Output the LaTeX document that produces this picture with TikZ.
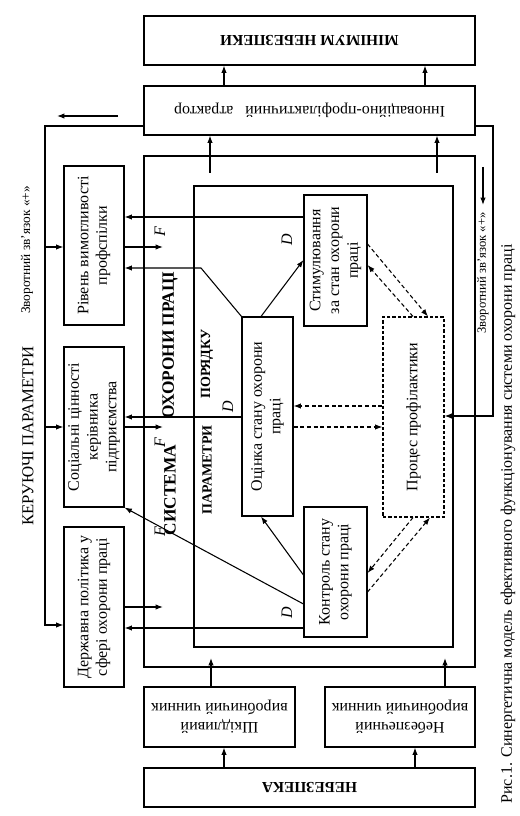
\documentclass[tikz,border=0pt]{standalone}
\usepackage{fontspec}
\setmainfont{Liberation Serif}
\usetikzlibrary{arrows.meta,fit}
\begin{document}
\begin{tikzpicture}[
			x=0.75pt, y=-0.75pt,
			blok/.style={draw, line width=0.8pt, inner sep=0pt},
			punktyr/.style={blok, dash pattern=on 2.5pt off 1.5pt},
			strilka/.style={line width=0.8pt, -{Latex[length=5.5pt,width=4pt]}},
			pstrilka/.style={strilka, dash pattern=on 3pt off 2pt},
			napys/.style={inner sep=0pt, rotate=90, align=center, font=\fontsize{12}{14}\selectfont},
			unapys/.style={inner sep=0pt, rotate=180, align=center, font=\fontsize{12}{14}\selectfont},
			litera/.style={inner sep=0pt, rotate=90, font=\fontsize{12}{14}\selectfont\itshape}
			]
			\useasboundingbox (0,0) rectangle (520,816);
			
			\node[blok, fit={(144,16) (475,65)}, label={[unapys, font=\bfseries\fontsize{11.5}{14}\selectfont]center:{МІНІМУМ НЕБЕЗПЕКИ}}] (minimum) {};
			\node[blok, fit={(144,86) (475,135)}, label={[unapys]center:{Інноваційно-профілактичний\ \ \ атрактор}}] (atraktor) {};
			\node[blok, fit={(144,156) (475,667)}] (systema) {};
			\node[blok, fit={(194,186) (453,647)}] (poriadok) {};
			
			\node[blok, fit={(64,166) (124,325)}, label={[napys]center:{Рівень вимогливості\\профспілки}}] (rivn) {};
			\node[blok, fit={(64,347) (124,507)}, label={[napys]center:{Соціальні цінності\\керівника\\підприємства}}] (soc) {};
			\node[blok, fit={(64,527) (124,687)}, label={[napys]center:{Державна політика у\\сфері охорони праці}}] (derzh) {};
			
			\node[blok, fit={(304,195) (367,326)}, label={[napys]center:{Стимулювання\\за стан охорони\\праці}}] (stym) {};
			\node[blok, fit={(242,317) (293,516)}, label={[napys]center:{Оцінка стану охорони\\праці}}] (ocin) {};
			\node[blok, fit={(304,507) (367,637)}, label={[napys]center:{Контроль стану\\охорони праці}}] (kontr) {};
			\node[punktyr, fit={(383,317) (444,517)}, label={[napys]center:{Процес профілактики}}] (proc) {};
			
			\node[blok, fit={(144,687) (295,747)}, label={[unapys]center:{Шкідливий\\виробничий чинник}}] (shkid) {};
			\node[blok, fit={(325,687) (475,747)}, label={[unapys]center:{Небезпечний\\виробничий чинник}}] (nebch) {};
			\node[blok, fit={(144,768) (475,807)}, label={[unapys, font=\bfseries\fontsize{11.5}{14}\selectfont]center:{НЕБЕЗПЕКА}}] (nebezpeka) {};
			
			\node[napys, font=\fontsize{12.5}{14}\selectfont] (keruiuchi) at (28,436) {КЕРУЮЧІ ПАРАМЕТРИ};
			\node[napys, font=\fontsize{10}{12}\selectfont] (zvL) at (27,250) {Зворотний зв’язок «+»};
			\node[napys, font=\fontsize{9.5}{12}\selectfont] (zvR) at (483,273) {Зворотний зв’язок «+»};
			\node[napys, font=\bfseries\fontsize{13}{15}\selectfont] (okhorony) at (170,345) {ОХОРОНИ ПРАЦІ};
			\node[napys, font=\bfseries\fontsize{13}{15}\selectfont] (systemaT) at (170,490) {СИСТЕМА};
			\node[napys, font=\bfseries\fontsize{10.5}{12}\selectfont] (poriadku) at (207,364) {ПОРЯДКУ};
			\node[napys, font=\bfseries\fontsize{10.5}{12}\selectfont] (parametry) at (207,470) {ПАРАМЕТРИ};
			\node[napys] (pidpys) at (508,524) {Рис.1. Синергетична модель ефективного функціонування системи охорони праці};
			
			\node[litera] (F1) at (160,232) {F};
			\node[litera] (F2) at (160,443) {F};
			\node[litera] (F3) at (160,532) {F};
			\node[litera] (D1) at (287,240) {D};
			\node[litera] (D2) at (228,407) {D};
			\node[litera] (D3) at (287,613) {D};
			
			\coordinate (vykhid1) at (163,247);
			\coordinate (vykhid2) at (163,427);
			\coordinate (vykhid3) at (163,607);
			\coordinate (vkhid1) at (210,173);
			\coordinate (vkhid2) at (437,173);
			\coordinate (niz1) at (211,658);
			\coordinate (niz2) at (445,658);
			\coordinate (vlivo1) at (118,116);
			\coordinate (vlivo2) at (57,116);
			\coordinate (vnyz1) at (483,167);
			\coordinate (vnyz2) at (483,205);
			\coordinate (zlam) at (201,268);
			
			\draw[strilka] (224,0 |- atraktor.north) -- (224,0 |- minimum.south);
			\draw[strilka] (425,0 |- atraktor.north) -- (425,0 |- minimum.south);
			\draw[strilka] (vkhid1) -- (210,0 |- atraktor.south);
			\draw[strilka] (vkhid2) -- (437,0 |- atraktor.south);
			\draw[strilka] (vlivo1) -- (vlivo2);
			\draw[strilka] (vnyz1) -- (vnyz2);
			
			\draw[strilka] (atraktor.west |- 0,126) -| (45,625) -- (derzh.west |- 0,625);
			\draw[strilka] (45,247) -- (rivn.west |- 0,247);
			\draw[strilka] (45,427) -- (soc.west |- 0,427);
			\draw[strilka] (atraktor.east |- 0,126) -| (493,416) -- (proc.east |- 0,416);
			
			\draw[strilka] (rivn.east |- vykhid1) -- (vykhid1);
			\draw[strilka] (soc.east |- vykhid2) -- (vykhid2);
			\draw[strilka] (derzh.east |- vykhid3) -- (vykhid3);
			
			\draw[strilka] (stym.west |- 0,217) -- (rivn.east |- 0,217);
			\draw[strilka] (ocin.north west) -- (zlam) -- (rivn.east |- zlam);
			\draw[strilka] (ocin.west |- 0,417) -- (soc.east |- 0,417);
			\draw[strilka] (kontr.west |- 0,604) -- (soc.south east);
			\draw[strilka] (kontr.west |- 0,628) -- (derzh.east |- 0,628);
			\draw[strilka] (kontr.west |- 0,575) -- (261,0 |- ocin.south);
			\draw[strilka] (261,0 |- ocin.north) -- (stym.west |- 0,260);
			
			\draw[pstrilka] (proc.west |- 0,406) -- (ocin.east |- 0,406);
			\draw[pstrilka] (ocin.east |- 0,427) -- (proc.west |- 0,427);
			\draw[pstrilka] (stym.east |- 0,244) -- (428,0 |- proc.north);
			\draw[pstrilka] (413,0 |- proc.north) -- (stym.east |- 0,265);
			\draw[pstrilka] (413,0 |- proc.south) -- (kontr.east |- 0,573);
			\draw[pstrilka] (kontr.east |- 0,592) -- (430,0 |- proc.south);
			
			\draw[strilka] (211,0 |- shkid.north) -- (niz1);
			\draw[strilka] (445,0 |- nebch.north) -- (niz2);
			\draw[strilka] (224,0 |- nebezpeka.north) -- (224,0 |- shkid.south);
			\draw[strilka] (415,0 |- nebezpeka.north) -- (415,0 |- nebch.south);
		\end{tikzpicture}
\end{document}
